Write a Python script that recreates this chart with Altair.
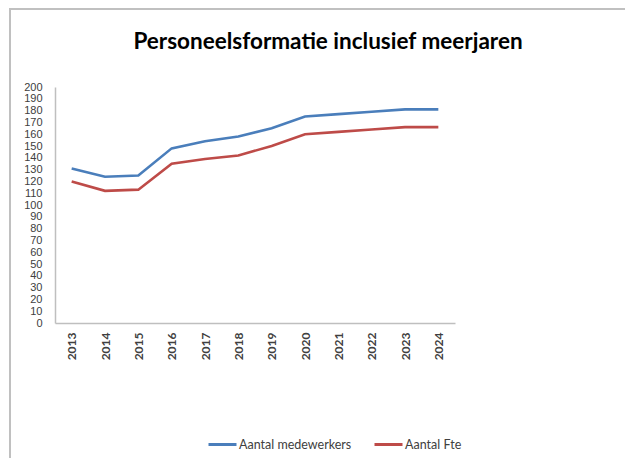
import altair as alt
import pandas as pd

years = [str(y) for y in range(2013, 2025)]
medewerkers = [131, 124, 125, 148, 154, 158, 165, 175, 177, 179, 181, 181]
fte = [120, 112, 113, 135, 139, 142, 150, 160, 162, 164, 166, 166]
series = ["Aantal medewerkers", "Aantal Fte"]
colors = ["#4A7EBB", "#BE4B48"]
y_ticks = list(range(0, 201, 10))
title_text = ["Personeelsformatie inclusief meerjaren"]

rows = []
for i, yr in enumerate(years):
    rows.append({"jaar": yr, "waarde": medewerkers[i], "reeks": series[0]})
    rows.append({"jaar": yr, "waarde": fte[i], "reeks": series[1]})
df = pd.DataFrame(rows)

frame = alt.Chart(pd.DataFrame({"a": [0]})).mark_rect(
    fill=None, stroke="#c0c0c0", strokeWidth=2
).encode(
    x=alt.value(-45), x2=alt.value(700), y=alt.value(-78), y2=alt.value(500)
)

title = alt.Chart(pd.DataFrame({"t": title_text})).mark_text(
    font="Lato", fontSize=22.5, fontWeight="bold", color="#000000",
    align="center", baseline="middle"
).encode(text="t:N", x=alt.value(273), y=alt.value(-45))

lines = alt.Chart(df).mark_line(strokeWidth=2.6).encode(
    x=alt.X("jaar:N", sort=years, scale=alt.Scale(type="point", padding=0.5),
            axis=alt.Axis(title=None, labelAngle=-90, ticks=False, labelPadding=9,
                          labelFont="Lato", labelFontWeight="bold", labelFontSize=12,
                          labelColor="#404040", domainColor="#bfbfbf", domainWidth=1.5)),
    y=alt.Y("waarde:Q", scale=alt.Scale(domain=[0, 200], nice=False),
            axis=alt.Axis(title=None, values=y_ticks, ticks=False, grid=False, labelPadding=13,
                          labelFont="Liberation Sans", labelFontSize=11, labelColor="#404040",
                          domainColor="#bfbfbf", domainWidth=1.5, labelOverlap=False)),
    color=alt.Color("reeks:N", sort=series,
                    scale=alt.Scale(domain=series, range=colors),
                    legend=alt.Legend(title=None, orient="none", legendX=152, legendY=342,
                                      direction="horizontal", symbolType="stroke",
                                      symbolSize=784, symbolStrokeWidth=3,
                                      labelFont="Lato", labelFontSize=12.5, labelColor="#404040",
                                      labelOffset=1, columnPadding=16)),
)

chart = alt.layer(frame, title, lines).properties(
    width=400, height=236,
    autosize=alt.AutoSizeParams(type="none"),
    padding={"left": 47, "top": 79, "right": 170, "bottom": 135},
).configure_view(stroke=None)

chart.save("out.html", embed_options={"renderer": "svg", "actions": False})
